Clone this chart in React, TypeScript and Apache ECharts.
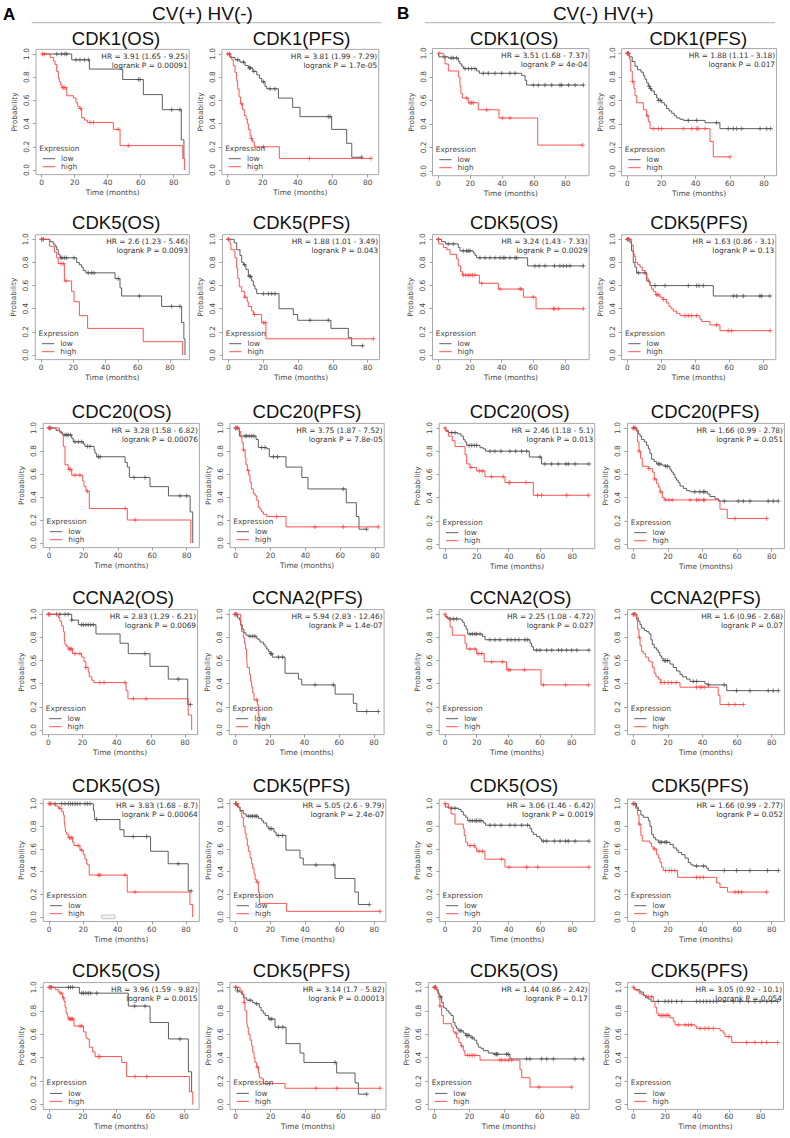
import React, { useEffect, useRef } from 'react';
import * as echarts from 'echarts';

// ---------- DATA: Kaplan-Meier steps [month, survival after drop] and censor times ----------
// Row 1
const p01Low = [[18.2,0.95],[28.9,0.87],[49.1,0.78],[61.6,0.65],[73.1,0.52],[84.6,0.26],[86.2,0.1]];
const p01LowCens = [9.1,12.1,14.1,15.2,20.8,23.2,25.9,28.3,58.6,59.6,78.8,83.8];
const p01High = [[5.1,0.97],[7.1,0.94],[8.1,0.91],[9.1,0.85],[10.1,0.79],[10.7,0.76],[11.5,0.73],[12.3,0.71],[15.2,0.64],[19.2,0.62],[20.8,0.58],[21.8,0.55],[22.8,0.53],[24.2,0.45],[25.9,0.43],[27.7,0.41],[43.4,0.35],[47.5,0.21],[85.5,0.1],[86.5,0]];
const p01HighCens = [0.5,1.5,12.8,13.5,14.3,23.5,29.3,31.3,46.3,52.5];

const p02Low = [[1.3,0.97],[4.2,0.95],[7,0.93],[9.9,0.9],[11.8,0.88],[14.3,0.85],[16.6,0.82],[18.1,0.79],[19.4,0.76],[21.3,0.72],[22.3,0.7],[29,0.62],[37.1,0.54],[41.3,0.46],[59.4,0.35],[68,0.23],[70.9,0.11]];
const p02LowCens = [1,5.7,9,12.4,13,15,20.4,24.2,27,57.5,58.5,76.6];
const p02High = [[1.3,0.98],[2.3,0.95],[3.2,0.9],[4.2,0.84],[5.1,0.77],[5.7,0.7],[6.5,0.63],[7.4,0.57],[8.4,0.52],[9.5,0.47],[10.5,0.44],[11.2,0.4],[11.8,0.35],[12.8,0.3],[13.3,0.27],[14.1,0.24],[15.2,0.2],[29.5,0.1]];
const p02HighCens = [0,1,8,13.6,20.4,46.7,81.9];

const p03Low = [[0.4,0.97],[6.3,0.96],[12.6,0.93],[13.6,0.91],[14.7,0.89],[15.7,0.87],[24.1,0.85],[25.8,0.83],[52.4,0.81],[54.5,0.77],[55.5,0.73]];
const p03LowCens = [4.2,8,9.4,11.5,16.8,19,21,23,28.3,31.4,35.6,39.8,45,48.2,59.7,62.8,67,71.2,76.4,77.5,81.7,85.9,91.1];
const p03High = [[3.1,0.96],[4.2,0.91],[6.3,0.85],[12.6,0.8],[13.6,0.72],[14.2,0.66],[15.1,0.62],[18.8,0.58],[25.1,0.52],[38.1,0.45],[62.4,0.22]];
const p03HighCens = [0.5,17.8,19.9,20.9,22,30.4,40.2,45,90.5];

const p04Low = [[1.2,0.97],[2.9,0.93],[4.5,0.89],[6,0.86],[8,0.84],[9.4,0.81],[10.3,0.78],[11.3,0.75],[12.3,0.72],[13.3,0.7],[14.2,0.68],[15.8,0.65],[17.2,0.62],[18.1,0.6],[20.1,0.58],[21.7,0.56],[23,0.53],[24.4,0.51],[26,0.49],[27.5,0.47],[28.9,0.45],[30.8,0.44],[32.8,0.43],[45.5,0.41],[54.2,0.36]];
const p04LowCens = [0,0.6,12.8,13.6,18.4,19.5,35.7,40.6,52.3,59.1,62,64,67,77.7,81.6,83.9];
const p04High = [[1.2,0.95],[2,0.85],[2.9,0.76],[3.9,0.7],[4.5,0.64],[5.5,0.58],[9.4,0.52],[11.3,0.47],[12.3,0.42],[13.3,0.36],[48.4,0.25],[50.3,0.12]];
const p04HighCens = [0,0.6,3.1,11.7,15.2,18.1,20.1,32.8,37.7,40.6,41.6,45.5,60.1];

// Row 2
const p05Low = [[5.6,0.98],[7.6,0.96],[8.7,0.94],[9.7,0.91],[10.7,0.87],[11.8,0.84],[22.1,0.8],[23.8,0.78],[25.2,0.76],[26.2,0.73],[27.9,0.71],[45.9,0.66],[49,0.58],[50,0.51],[74.8,0.42],[87.2,0.28],[88.6,0.14],[89.3,0]];
const p05LowCens = [0.4,1.4,12.4,13,14.5,15.9,20.5,29.3,31.4,32.9,47.9,61,81,86.2];
const p05High = [[5.2,0.94],[8.3,0.89],[9.7,0.84],[10.7,0.79],[14.5,0.64],[19,0.55],[20.5,0.46],[23.8,0.34],[28.9,0.23],[63.4,0.115],[87.8,0]];
const p05HighCens = [0.4,12.4,13.8,15.5];

const p06Low = [[3.4,0.97],[4.8,0.91],[6.7,0.86],[7.7,0.8],[8.6,0.78],[10.1,0.74],[11.5,0.68],[13.4,0.64],[14.4,0.6],[15.3,0.57],[16.3,0.53],[29.1,0.4],[37.3,0.35],[39.8,0.3],[58.9,0.23],[68.9,0.15],[70.8,0.08]];
const p06LowCens = [0,9.3,12.1,12.8,20.1,23,24.9,26.8,46.9,57.4,77.1];
const p06High = [[1,0.96],[1.5,0.91],[3.8,0.84],[4.8,0.75],[5.4,0.66],[6.3,0.59],[7.7,0.55],[9.2,0.5],[10.9,0.46],[11.5,0.42],[13.4,0.38],[14.4,0.35],[19.1,0.28],[21.6,0.14]];
const p06HighCens = [0,9.6,15,20.1,21.1,83.3];

const p07Low = [[2.1,0.98],[4.6,0.96],[12.6,0.93],[13.7,0.9],[22.1,0.88],[23.2,0.86],[24.2,0.84],[56.4,0.77]];
const p07LowCens = [0,6.3,9.5,15.8,17.9,18.9,20,26.3,29.5,32.6,35.8,38.9,41,42.1,45.3,48.4,49.5,61,63.6,67.4,73.3,76.8,78.9,81,83.2,91.6];
const p07High = [[0.4,0.96],[3.2,0.93],[5.3,0.91],[7.4,0.87],[11.6,0.83],[12.6,0.77],[14.1,0.72],[15.4,0.69],[25.9,0.62],[37.9,0.57],[53.7,0.5],[61.7,0.4]];
const p07HighCens = [0,15.8,17.3,18.9,20,21.5,23.2,27.4,38.9,51.6,52.2,60,72.6,73.3,75.8,91.6];

const p08Low = [[1.6,0.97],[2.5,0.9],[3.5,0.8],[4.5,0.76],[5.5,0.71],[11.4,0.64],[13.3,0.6],[50.6,0.51]];
const p08LowCens = [0,0.8,6.5,10.4,16.3,22.2,35.9,40.8,42.2,44.7,62.4,64.3,68.2,78,79,83.9];
const p08High = [[2.5,0.95],[3.5,0.88],[4.1,0.85],[4.9,0.8],[6.1,0.78],[7.5,0.76],[8.8,0.73],[10.4,0.7],[11.4,0.66],[12.4,0.63],[13.3,0.6],[14.3,0.57],[15.3,0.55],[16.7,0.52],[19.2,0.5],[20.8,0.48],[23.1,0.45],[24.5,0.42],[25.7,0.4],[27.1,0.38],[29,0.36],[31,0.34],[42.7,0.31],[43.7,0.29],[48.6,0.26],[54.5,0.21]];
const p08HighCens = [0,1,17.3,18.2,21.4,33.9,35.9,37.8,40.8,52.5,59.4,61.4,84];

// Row 3
const p09Low = [[4.1,0.98],[6.4,0.96],[7.9,0.94],[13.2,0.91],[14.1,0.88],[20,0.86],[20.9,0.84],[26.2,0.81],[26.7,0.78],[27.7,0.75],[44.2,0.7],[45.5,0.66],[46.7,0.57],[58.7,0.49],[69.4,0.41],[82,0.27],[83.5,0]];
const p09LowCens = [0,1,9.3,10.3,11.2,12.6,15.1,17.1,19,22.3,23.8,28.7,29.7,49.4,55.8,76.2,80];
const p09High = [[6,0.97],[7.4,0.95],[8.3,0.84],[9.3,0.68],[11.2,0.64],[13.2,0.59],[19.6,0.54],[20.3,0.49],[21.5,0.45],[23.4,0.3],[45.5,0.2],[82.4,0]];
const p09HighCens = [0,0.6,11.8,12.6,15.1,18,22.3,44.2,50];

const p10Low = [[2.1,0.93],[11.7,0.9],[13,0.83],[17.8,0.82],[19.3,0.75],[28.9,0.66],[38,0.57],[41.5,0.47],[63.5,0.35],[69.3,0.23],[70.8,0.12]];
const p10LowCens = [0,1,5.4,6.3,7.8,9.2,10.5,14.9,16.8,21.6,24,61.8,75.2];
const p10High = [[2.1,0.97],[2.9,0.92],[3.6,0.87],[4.4,0.81],[5.4,0.74],[5.9,0.68],[6.7,0.63],[7.5,0.59],[8.2,0.53],[9,0.47],[10.1,0.43],[11.1,0.41],[12.1,0.37],[13,0.31],[14,0.29],[14.9,0.27],[15.9,0.25],[17.8,0.23],[28.9,0.14]];
const p10HighCens = [0,0.6,4.4,7.2,23.5,45.5,61.8,81.9];

const p11Low = [[0.4,0.98],[2.1,0.96],[8,0.95],[10.1,0.93],[11.5,0.9],[12.6,0.88],[13.6,0.85],[22,0.83],[24.1,0.82],[25.5,0.8],[53,0.75],[60.7,0.69]];
const p11LowCens = [4.2,6.3,15.1,16.8,18.4,19.9,28.3,31.4,35.2,40.8,44.4,48.2,51.3,59.7,62.8,67,71.2,76,77.5,81.7,90.5];
const p11High = [[0.6,0.97],[2.1,0.93],[4.6,0.89],[6.3,0.84],[12.6,0.77],[13.6,0.69],[15.7,0.66],[19.9,0.63],[25.1,0.58],[37.7,0.53],[55.5,0.42]];
const p11HighCens = [0,16.3,21.6,23.5,29.3,36.6,40.2,40.8,50.9,58.2,60.7,76.4,90.1];

const p12Low = [[1.9,0.98],[2.9,0.95],[3.9,0.93],[4.8,0.9],[6.4,0.88],[7.7,0.85],[8.7,0.82],[9.6,0.78],[10.6,0.73],[12.1,0.71],[13.5,0.69],[16.4,0.68],[18.3,0.67],[21.2,0.64],[22.2,0.62],[23.1,0.6],[24.1,0.57],[25,0.55],[26,0.53],[27,0.5],[28.9,0.48],[30.8,0.46],[32.8,0.45],[43,0.43],[44.3,0.41],[47.2,0.39],[49.1,0.37]];
const p12LowCens = [0,1,14.5,15.4,18.7,19.8,35.6,38.5,40.5,41.4,52.6,60.7,63.6,67.4,78,80.9,83.8];
const p12High = [[1.9,0.97],[2.5,0.88],[3.3,0.8],[4.2,0.74],[5.2,0.67],[8.7,0.65],[11,0.62],[12.1,0.56],[13.5,0.52],[14.5,0.49],[15.4,0.45],[16.8,0.4],[17.9,0.38],[50.1,0.3],[54.3,0.22]];
const p12HighCens = [0,1,3.3,9,12.3,15.9,18.7,20.6,22.5,32.8,36.6,38,40.5,41,58.8,77.1];

// Row 4
const p13Low = [[13.7,0.95],[17.6,0.91],[27.9,0.83],[42,0.75],[46.8,0.66],[59.5,0.55],[70.2,0.44],[81.6,0.22]];
const p13LowCens = [0,4.9,6.8,9.8,11.7,13.7,19.5,20.5,22,23.4,24.8,26.3,56.6,76.1,83.2];
const p13High = [[5.9,0.97],[6.8,0.94],[7.8,0.9],[8.8,0.85],[9.4,0.79],[9.8,0.74],[10.7,0.72],[11.7,0.7],[14.2,0.66],[19.5,0.63],[20.9,0.59],[22,0.54],[23.4,0.5],[24,0.46],[25.4,0.43],[26.7,0.41],[45.5,0.34],[46.6,0.27],[81.9,0.13],[83.9,0]];
const p13HighCens = [0,1,12.3,13.1,13.7,15.6,18.5,22,30.2,32.6,44.9,49.8,57.2];

const p14Low = [[1.5,0.97],[2.5,0.95],[3.3,0.91],[4.2,0.87],[5.2,0.84],[6.3,0.82],[7.7,0.81],[12.5,0.79],[13.4,0.78],[14.4,0.76],[16.3,0.74],[17.3,0.72],[18.2,0.7],[19.2,0.68],[20.2,0.66],[21.5,0.63],[28.8,0.49],[36.5,0.44],[38.4,0.39],[57.6,0.31],[68.1,0.23],[70.1,0.16]];
const p14LowCens = [0,1,8.6,10.2,11.5,20.5,21.1,25,27.4,46.1,56.6,75.8,82.5];
const p14High = [[3.3,0.9],[3.8,0.85],[4.8,0.8],[5.4,0.75],[6,0.7],[6.7,0.63],[7.1,0.54],[8.3,0.48],[9,0.42],[9.6,0.37],[10.2,0.32],[10.9,0.26],[12.9,0.22],[13.4,0.13],[13.9,0]];
const p14HighCens = [0,0.6,12.5];

const p15Low = [[0.4,0.98],[1.7,0.96],[10.1,0.95],[11.2,0.93],[12.2,0.9],[13.3,0.87],[14.3,0.83],[23.6,0.81],[25.3,0.78],[53.7,0.75],[54.7,0.72],[55.8,0.69]];
const p15LowCens = [3.2,5.3,7.4,15.8,17.3,18.9,20,22.1,28.4,31.6,34.7,39.6,41.7,44.2,46.7,50.5,52.2,57.9,60,64.2,67.4,71.6,73.7,76.8,80,83.2,90.9];
const p15High = [[0.6,0.97],[3.2,0.89],[4.6,0.82],[12.6,0.75],[13.7,0.7],[20,0.66],[24.8,0.59],[38.9,0.52],[60.6,0.39]];
const p15HighCens = [0,15.8,18.9,21,23.2,29.5,36.2,40,41,50.1,62.1,76.2,90.5];

const p16Low = [[1.9,0.97],[2.9,0.94],[3.9,0.91],[4.8,0.88],[6.4,0.86],[7.7,0.85],[9.1,0.83],[10.2,0.78],[11,0.74],[12.1,0.71],[13.5,0.69],[14.5,0.67],[15.4,0.64],[16.4,0.62],[17.3,0.6],[21.2,0.57],[23.1,0.54],[25,0.51],[27,0.48],[28.3,0.46],[30.8,0.44],[32.8,0.42],[41.4,0.4],[43,0.39],[54,0.34]];
const p16LowCens = [0,1,17.9,18.7,19.8,34.7,36.6,43.4,52.6,59.7,67.4,78,80.9,83.8];
const p16High = [[1.9,0.95],[2.5,0.87],[3.3,0.8],[3.9,0.73],[4.8,0.68],[5.8,0.66],[7.1,0.63],[8.7,0.6],[9.6,0.59],[11,0.54],[12.1,0.49],[13.1,0.46],[14.5,0.44],[16,0.41],[27,0.37],[49.1,0.3],[50.1,0.22]];
const p16HighCens = [0,0.6,3.5,16,17.9,20.2,22.2,24.7,36.6,38.5,39.5,41,54.9,58.8,63.6];

// Row 5
const p17Low = [[25.9,0.94],[26.5,0.91],[26.8,0.86],[41.4,0.77],[43.8,0.71],[59.3,0.58],[69.6,0.47],[81.3,0.23]];
const p17LowCens = [0.6,3.5,7.4,9.3,11.3,12.6,13.8,15.2,16.5,18.1,21,22.4,23.9,27.8,49.2,57,75.5,83];
const p17High = [[3.5,0.98],[5.4,0.96],[7.4,0.93],[8.4,0.9],[8.9,0.85],[9.3,0.8],[9.7,0.75],[10.3,0.73],[11.3,0.7],[13.8,0.66],[14.6,0.63],[18.1,0.59],[20,0.55],[21,0.51],[22,0.47],[22.6,0.46],[23.5,0.37],[45.7,0.22],[82.3,0.11],[83.9,0]];
const p17HighCens = [0,1.2,6.4,12,12.8,13.4,17.1,19,28.8,29.8,44.4,50.2];

const p18Low = [[1,0.97],[2.5,0.94],[4.4,0.91],[6,0.89],[13.1,0.87],[15,0.85],[16,0.83],[17.9,0.8],[18.8,0.78],[22.1,0.75],[23.3,0.72],[29,0.59],[37.1,0.52],[39,0.46],[57.3,0.34],[68.8,0.22],[70.8,0.11]];
const p18LowCens = [0,0.6,7.3,8.7,9.8,11.2,12.1,19.8,20.8,24.6,27.1,46.3,56.5,77.1];
const p18High = [[1.5,0.97],[2.5,0.93],[3.5,0.88],[4.4,0.8],[5.4,0.74],[6,0.69],[6.7,0.63],[7.3,0.58],[8.3,0.52],[9.2,0.47],[9.8,0.43],[10.6,0.38],[11.2,0.33],[12.1,0.31],[13.1,0.22],[13.7,0.12],[29.4,0.05]];
const p18HighCens = [0,0.2,12.3,83.3];

const p19Low = [[0.4,0.97],[3.1,0.96],[8.4,0.95],[10.1,0.93],[11.5,0.9],[13,0.88],[14.2,0.85],[24.1,0.83],[25.5,0.81],[53.4,0.78],[54.5,0.75],[55.5,0.73],[57.6,0.71],[59.7,0.69],[60.7,0.67]];
const p19LowCens = [4.2,6.3,15.7,17.2,18.8,19.9,21.4,22.6,28.3,31.4,35.2,40.8,44,48.2,51.9,61.8,63.9,68.7,72.3,75.8,77.5,81.7,90.5];
const p19High = [[2.1,0.96],[3.8,0.91],[6.3,0.82],[11.5,0.78],[12.1,0.72],[13,0.66],[14.2,0.63],[18.8,0.61],[19.9,0.58],[25.1,0.51],[37.7,0.44]];
const p19HighCens = [0,15.7,18.4,21.4,23.5,35.6,40.2,51.3,58.2,90.5];

const p20Low = [[1.9,0.97],[2.9,0.94],[4.4,0.9],[5.8,0.88],[8.7,0.85],[9.6,0.8],[10.6,0.73],[11.6,0.7],[12.9,0.68],[14.5,0.66],[21.2,0.64],[23.1,0.61],[25,0.59],[26,0.57],[27.9,0.55],[29.9,0.52],[31.8,0.48],[33.3,0.46],[34.7,0.45],[42.4,0.43],[43.4,0.41]];
const p20LowCens = [0,1,15.4,16.4,18.3,19.3,36.6,40.5,52.6,59.7,67.4,77.6,83.8];
const p20High = [[1.3,0.96],[2.5,0.9],[3.3,0.82],[4.4,0.72],[5.2,0.67],[9.6,0.65],[10.6,0.62],[11.6,0.6],[13.5,0.55],[14.5,0.52],[15.4,0.48],[16.4,0.44],[17.3,0.41],[25.6,0.35],[48.2,0.3],[50.1,0.26],[54.5,0.22]];
const p20HighCens = [0,3.5,12.3,18.7,20.8,22.2,24.1,36.6,38.5,40.5,58.8,60.7,62.6,77.1];

// Row 6
const p21Low = [[18,0.95],[47,0.84],[59.9,0.7],[70.8,0.56],[82.6,0.28],[84.5,0.11]];
const p21LowCens = [0.6,1.6,11.5,12.8,14,19.4,20.4,21.9,23.3,24.7,28.3,50.8,56.9,77.7];
const p21High = [[3.6,0.98],[5.5,0.96],[6.5,0.95],[8.1,0.91],[8.9,0.88],[9.5,0.83],[10.1,0.78],[10.9,0.75],[11.5,0.73],[14.8,0.67],[20.4,0.62],[21.9,0.57],[22.7,0.56],[23.9,0.49],[25.9,0.45],[27.3,0.41],[43.1,0.36],[46,0.24],[83.2,0.11],[85.2,0]];
const p21HighCens = [0,1.2,7.1,8.5,12.1,12.8,13.4,14,18.4,19.4,29.2,30.2,51,57.9];

const p22Low = [[1,0.97],[2.1,0.96],[3.4,0.94],[4.4,0.91],[6.3,0.89],[9.7,0.87],[11,0.86],[13.5,0.83],[14.5,0.8],[15.8,0.78],[16.8,0.76],[18.7,0.73],[22.5,0.66],[28.8,0.52],[36.8,0.44],[39,0.36],[57.7,0.27],[68.2,0.185],[70.1,0.09]];
const p22LowCens = [0,1,8.2,12,19.6,20.6,24.4,26.9,56.8,74.9];
const p22High = [[2.5,0.97],[3.8,0.94],[4.8,0.87],[5.3,0.8],[6.3,0.72],[6.7,0.66],[7.2,0.6],[8.2,0.55],[9.1,0.5],[9.7,0.45],[10.5,0.4],[11,0.36],[12,0.32],[13,0.27],[13.5,0.23],[14.9,0.22],[15.8,0.18],[28.2,0.14]];
const p22HighCens = [0,4.8,12.4,19.2,45.9,57.7,82.5];

const p23Low = [[1.3,0.98],[2.3,0.95],[2.8,0.92],[4.2,0.87],[5.1,0.83],[6.1,0.82],[7,0.8],[8.3,0.78],[9.5,0.76],[10.8,0.7],[11.8,0.67],[12.7,0.65],[13.6,0.63],[16.5,0.61],[17.8,0.59],[20.9,0.57],[22.7,0.55],[24.1,0.52],[25,0.49],[26.5,0.48],[27.9,0.46],[30.7,0.44],[33.6,0.43],[43,0.39]];
const p23LowCens = [0,0.6,3.6,14.6,15.2,18.4,19,19.7,21.6,34.5,35.4,36,41.1,42.1,52.5,54.4,61,63.9,67.7,80,84.7];
const p23High = [[1.3,0.97],[1.9,0.95],[2.7,0.9],[3.2,0.84],[4.2,0.76],[5.1,0.69],[9.9,0.66],[10.8,0.62],[11.8,0.61],[12.7,0.57],[14,0.53],[15.2,0.5],[16.5,0.46],[17.4,0.42],[26,0.38],[48.7,0.3],[49.7,0.23],[54.4,0.15]];
const p23HighCens = [0,0.6,3.2,12.3,15.6,19,20.3,21.6,23.1,37.3,38.3,40.2,42.1,44,59.5,78.1];

const p24Low = [[1,0.98],[4.2,0.96],[6.3,0.93],[7.7,0.91],[9.4,0.9],[11.1,0.88]];
const p24LowCens = [15.7,19.9,22,24.1,27.2,30.4,39.8,41.9,44,46.1,48.2,50.3,52.4,62.8,67,72.3,76.4,79.6,83.8,86.9,90.7];
const p24High = [[0.6,0.98],[2.1,0.97],[3.6,0.95],[5.2,0.94],[6.9,0.93],[8.4,0.92],[12.6,0.88],[13.6,0.83],[14.7,0.78],[15.7,0.76],[23,0.74],[25.1,0.71],[26.2,0.68],[38.7,0.67],[39.8,0.65],[54.5,0.63],[56.5,0.61],[57.6,0.58],[61.8,0.53]];
const p24HighCens = [0,9.4,11.5,16.8,17.8,18.8,19.9,21,22,28.3,32.5,34.6,36.6,41.9,45,47.1,50.3,60.1,71.2,76.4,80.6,83.8,90.7];

const titles = [
  'CDK1(OS)', 'CDK1(PFS)', 'CDK1(OS)', 'CDK1(PFS)',
  'CDK5(OS)', 'CDK5(PFS)', 'CDK5(OS)', 'CDK5(PFS)',
  'CDC20(OS)', 'CDC20(PFS)', 'CDC20(OS)', 'CDC20(PFS)',
  'CCNA2(OS)', 'CCNA2(PFS)', 'CCNA2(OS)', 'CCNA2(PFS)',
  'CDK5(OS)', 'CDK5(PFS)', 'CDK5(OS)', 'CDK5(PFS)',
  'CDK5(OS)', 'CDK5(PFS)', 'CDK5(OS)', 'CDK5(PFS)',
];
const hrLabels = [
  'HR = 3.91 (1.65 - 9.25)', 'HR = 3.81 (1.99 - 7.29)', 'HR = 3.51 (1.68 - 7.37)', 'HR = 1.88 (1.11 - 3.18)',
  'HR = 2.6 (1.23 - 5.46)', 'HR = 1.88 (1.01 - 3.49)', 'HR = 3.24 (1.43 - 7.33)', 'HR = 1.63 (0.86 - 3.1)',
  'HR = 3.28 (1.58 - 6.82)', 'HR = 3.75 (1.87 - 7.52)', 'HR = 2.46 (1.18 - 5.1)', 'HR = 1.66 (0.99 - 2.78)',
  'HR = 2.83 (1.29 - 6.21)', 'HR = 5.94 (2.83 - 12.46)', 'HR = 2.25 (1.08 - 4.72)', 'HR = 1.6 (0.96 - 2.68)',
  'HR = 3.83 (1.68 - 8.7)', 'HR = 5.05 (2.6 - 9.79)', 'HR = 3.06 (1.46 - 6.42)', 'HR = 1.66 (0.99 - 2.77)',
  'HR = 3.96 (1.59 - 9.82)', 'HR = 3.14 (1.7 - 5.82)', 'HR = 1.44 (0.86 - 2.42)', 'HR = 3.05 (0.92 - 10.1)',
];
const pLabels = [
  'logrank P = 0.00091', 'logrank P = 1.7e-05', 'logrank P = 4e-04', 'logrank P = 0.017',
  'logrank P = 0.0093', 'logrank P = 0.043', 'logrank P = 0.0029', 'logrank P = 0.13',
  'logrank P = 0.00076', 'logrank P = 7.8e-05', 'logrank P = 0.013', 'logrank P = 0.051',
  'logrank P = 0.0069', 'logrank P = 1.4e-07', 'logrank P = 0.027', 'logrank P = 0.07',
  'logrank P = 0.00064', 'logrank P = 2.4e-07', 'logrank P = 0.0019', 'logrank P = 0.052',
  'logrank P = 0.0015', 'logrank P = 0.00013', 'logrank P = 0.17', 'logrank P = 0.054',
];
const lowSteps = [p01Low,p02Low,p03Low,p04Low,p05Low,p06Low,p07Low,p08Low,p09Low,p10Low,p11Low,p12Low,p13Low,p14Low,p15Low,p16Low,p17Low,p18Low,p19Low,p20Low,p21Low,p22Low,p23Low,p24Low];
const lowCens = [p01LowCens,p02LowCens,p03LowCens,p04LowCens,p05LowCens,p06LowCens,p07LowCens,p08LowCens,p09LowCens,p10LowCens,p11LowCens,p12LowCens,p13LowCens,p14LowCens,p15LowCens,p16LowCens,p17LowCens,p18LowCens,p19LowCens,p20LowCens,p21LowCens,p22LowCens,p23LowCens,p24LowCens];
const highSteps = [p01High,p02High,p03High,p04High,p05High,p06High,p07High,p08High,p09High,p10High,p11High,p12High,p13High,p14High,p15High,p16High,p17High,p18High,p19High,p20High,p21High,p22High,p23High,p24High];
const highCens = [p01HighCens,p02HighCens,p03HighCens,p04HighCens,p05HighCens,p06HighCens,p07HighCens,p08HighCens,p09HighCens,p10HighCens,p11HighCens,p12HighCens,p13HighCens,p14HighCens,p15HighCens,p16HighCens,p17HighCens,p18HighCens,p19HighCens,p20HighCens,p21HighCens,p22HighCens,p23HighCens,p24HighCens];

const xTicks = [0, 20, 40, 60, 80];
const yTicks = [0, 0.2, 0.4, 0.6, 0.8, 1];

// ---------- LAYOUT (pixels): [x of 0, x of 80, axis max time, y of 1.0, y of 0.0, title x] ----------
const frames = [
  [41.7, 173.7, 86, 54, 170, 116], [227.7, 367.7, 83, 54, 170, 301.7], [438.3, 565.7, 91, 53.3, 171, 514.3], [627.3, 764, 84, 53.3, 171, 698.3],
  [41, 170, 88.5, 239.3, 355, 116.3], [228.3, 367.7, 83.5, 239.3, 355, 301.7], [438.3, 565, 91.6, 239.3, 355, 514.3], [627.3, 763.3, 84, 239.3, 355, 699.2],
  [49, 186.7, 84, 428, 543, 121.7], [235.7, 375, 82, 428, 543, 307], [445, 572.3, 90.5, 428, 544, 519.7], [633.3, 771.7, 84, 428, 544, 705.3],
  [48.3, 185, 84, 614.3, 730, 123], [235, 374, 82.5, 614.3, 730, 307.5], [445, 571.7, 91, 614.3, 730, 520.5], [633.3, 771.7, 84, 614.3, 730, 705.5],
  [49, 186, 84.4, 803.7, 917, 116.3], [235.7, 374.3, 83.3, 803.7, 917, 301.7], [445, 572.3, 90.5, 803.7, 917, 514], [633.3, 771.7, 84, 803.7, 917, 700],
  [49, 184, 85.5, 987.3, 1104.7, 116.3], [235.7, 375.7, 82.6, 987.3, 1104.7, 301.7], [434.3, 575, 84.7, 987.3, 1104.7, 514.3], [633.3, 760.7, 90.7, 987.3, 1104.7, 699.7],
];
const titleY = [38.8, 222, 411, 597.8, 785, 970.5];

const SMALL_FONT = 'DejaVu Sans';
const BIG_FONT = 'Liberation Sans';
const LOW_COLOR = '#4d4d4d';
const HIGH_COLOR = '#ff4040';
const BOX_COLOR = '#a8a8a8';
const TXT_COLOR = '#474747';
const PLUS = 'path://M0,5L10,5M5,0L5,10';
const FS = 7.4;

function curvePoints(steps: number[][], cens: number[]) {
  const pts: number[][] = [[0, 1]];
  let s = 1;
  for (const [t, v] of steps) {
    pts.push([t, s]);
    pts.push([t, v]);
    s = v;
  }
  const lastStep = steps.length ? steps[steps.length - 1][0] : 0;
  const lastCens = cens.length ? Math.max(...cens) : 0;
  pts.push([Math.max(lastStep, lastCens), s]);
  return pts;
}
function survAt(steps: number[][], t: number) {
  let s = 1;
  for (const [tt, v] of steps) {
    if (tt <= t) s = v; else break;
  }
  return s;
}

function txt(x: number, y: number, text: string, opts: any = {}) {
  const align = opts.align || 'left';
  const valign = opts.valign || 'middle';
  return {
    type: 'text', x, y, silent: true, z: 10,
    style: {
      text, fill: opts.fill || TXT_COLOR, fontSize: opts.size || FS,
      fontFamily: opts.family || SMALL_FONT, fontWeight: opts.weight || 'normal',
      align, verticalAlign: valign, textAlign: align, textVerticalAlign: valign,
    },
  };
}

function buildOption() {
  const grid: any[] = [], xAxis: any[] = [], yAxis: any[] = [], series: any[] = [], graphic: any[] = [];

  // header
  graphic.push(txt(3, 14.5, 'A', { size: 17, weight: 'bold', family: BIG_FONT, fill: '#000' }));
  graphic.push(txt(397, 13.5, 'B', { size: 17, weight: 'bold', family: BIG_FONT, fill: '#000' }));
  graphic.push(txt(202.5, 13.5, 'CV(+) HV(-)', { size: 19, family: BIG_FONT, fill: '#111', align: 'center' }));
  graphic.push(txt(603.3, 13.5, 'CV(-) HV(+)', { size: 19, family: BIG_FONT, fill: '#111', align: 'center' }));
  graphic.push({ type: 'line', silent: true, shape: { x1: 31.7, y1: 22.7, x2: 381.7, y2: 22.7 }, style: { stroke: '#b0b0b0', lineWidth: 1 } });
  graphic.push({ type: 'line', silent: true, shape: { x1: 425, y1: 22.7, x2: 775, y2: 22.7 }, style: { stroke: '#b0b0b0', lineWidth: 1 } });

  frames.forEach((f, i) => {
    const [x0, x80, maxT, y1, y0, tx] = f;
    const ppm = (x80 - x0) / 80;
    const L = x0 - 0.04 * maxT * ppm;
    const R = x0 + 1.04 * maxT * ppm;
    const T = y1 - 0.04 * (y0 - y1);
    const B = y0 + 0.04 * (y0 - y1);
    grid.push({
      left: L, top: T, width: R - L, height: B - T,
      show: true, borderColor: BOX_COLOR, borderWidth: 1, backgroundColor: 'rgba(0,0,0,0)',
      containLabel: false, outerBoundsMode: 'none',
    });
    xAxis.push({
      type: 'value', gridIndex: i, min: -0.04 * maxT, max: 1.04 * maxT,
      axisLine: { show: false, onZero: false },
      axisTick: { show: true, customValues: xTicks, length: 3, lineStyle: { color: '#8a8a8a', width: 0.8 } },
      axisLabel: { customValues: xTicks, fontSize: FS, fontFamily: SMALL_FONT, color: TXT_COLOR, margin: 4 },
      splitLine: { show: false },
      name: 'Time (months)', nameLocation: 'middle', nameGap: 14,
      nameTextStyle: { fontSize: FS, fontFamily: SMALL_FONT, color: TXT_COLOR },
    });
    yAxis.push({
      type: 'value', gridIndex: i, min: -0.04, max: 1.04,
      axisLine: { show: false, onZero: false },
      axisTick: { show: true, customValues: yTicks, length: 3, lineStyle: { color: '#8a8a8a', width: 0.8 } },
      axisLabel: {
        customValues: yTicks, rotate: 90, fontSize: FS, fontFamily: SMALL_FONT, color: TXT_COLOR, margin: 6,
        formatter: (v: number) => v.toFixed(1),
      },
      splitLine: { show: false },
      name: 'Probability', nameLocation: 'middle', nameGap: 18, nameRotate: 90,
      nameTextStyle: { fontSize: FS, fontFamily: SMALL_FONT, color: TXT_COLOR },
    });

    const lo = lowSteps[i], hi = highSteps[i];
    series.push({
      type: 'line', xAxisIndex: i, yAxisIndex: i, data: curvePoints(lo, lowCens[i]),
      symbol: 'none', silent: true, z: 2, lineStyle: { color: LOW_COLOR, width: 0.9 },
    });
    series.push({
      type: 'scatter', xAxisIndex: i, yAxisIndex: i, data: lowCens[i].map((t) => [t, survAt(lo, t)]),
      symbol: PLUS, symbolSize: 4.5, silent: true, z: 2,
      itemStyle: { color: 'none', borderColor: LOW_COLOR, borderWidth: 0.9 },
    });
    series.push({
      type: 'line', xAxisIndex: i, yAxisIndex: i, data: curvePoints(hi, highCens[i]),
      symbol: 'none', silent: true, z: 3, lineStyle: { color: HIGH_COLOR, width: 0.9 },
    });
    series.push({
      type: 'scatter', xAxisIndex: i, yAxisIndex: i, data: highCens[i].map((t) => [t, survAt(hi, t)]),
      symbol: PLUS, symbolSize: 4.5, silent: true, z: 3,
      itemStyle: { color: 'none', borderColor: HIGH_COLOR, borderWidth: 0.9 },
    });

    // title
    graphic.push(txt(tx, titleY[Math.floor(i / 4)], titles[i], { size: 18.5, family: BIG_FONT, fill: '#111', align: 'center' }));
    // HR and p
    graphic.push(txt(R - 1.5, y1 + 2, hrLabels[i], { align: 'right', fill: '#333' }));
    graphic.push(txt(R - 1.5, y1 + 11, pLabels[i], { align: 'right', fill: '#333' }));
    // legend
    graphic.push(txt(L + 3.3, y0 - 22, 'Expression'));
    graphic.push({ type: 'line', silent: true, z: 10, shape: { x1: L + 6.7, y1: y0 - 11.3, x2: L + 19, y2: y0 - 11.3 }, style: { stroke: LOW_COLOR, lineWidth: 0.9 } });
    graphic.push(txt(L + 25, y0 - 11.3, 'low'));
    graphic.push({ type: 'line', silent: true, z: 10, shape: { x1: L + 6.7, y1: y0 - 3.3, x2: L + 19, y2: y0 - 3.3 }, style: { stroke: HIGH_COLOR, lineWidth: 0.9 } });
    graphic.push(txt(L + 25, y0 - 3.3, 'high'));
  });

  // small grey artefact box seen in one panel of the original
  graphic.push({ type: 'rect', silent: true, z: 10, shape: { x: 101.7, y: 915, width: 13.3, height: 3.7 }, style: { fill: '#f2f2f2', stroke: '#b5b5b5', lineWidth: 0.7 } });

  return { animation: false, backgroundColor: '#ffffff', grid, xAxis, yAxis, series, graphic };
}

export default function App() {
  const ref = useRef<HTMLDivElement>(null);
  useEffect(() => {
    document.body.style.margin = '0';
    const chart = echarts.init(ref.current as HTMLDivElement, null, { renderer: 'svg' });
    chart.setOption(buildOption() as any);
    return () => chart.dispose();
  }, []);
  return <div ref={ref} style={{ width: 790, height: 1138 }} />;
}
